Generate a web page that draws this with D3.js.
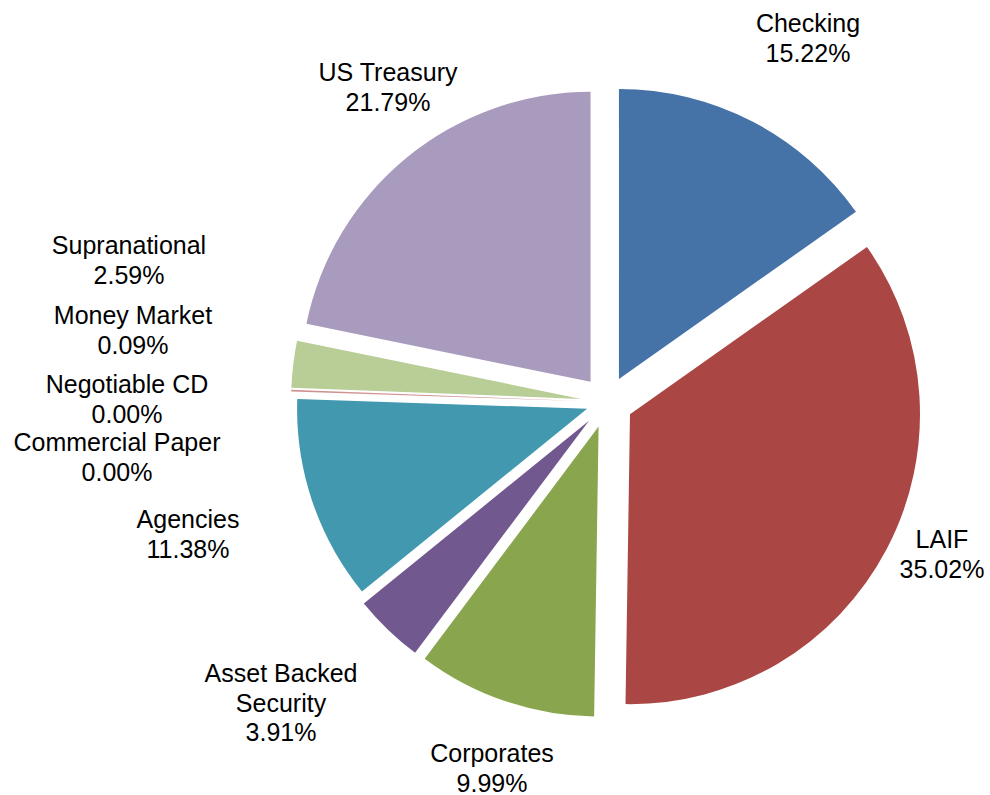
<!DOCTYPE html>
<html>
<head>
<meta charset="utf-8">
<script src="https://cdn.jsdelivr.net/npm/d3@7"></script>
<style>
  html, body { margin: 0; padding: 0; background: #ffffff; }
  svg { display: block; }
  text { font-family: "Liberation Sans", Arial, sans-serif; }
</style>
</head>
<body>
<svg id="chart" width="990" height="795"></svg>
<script>
// ---- data ----
const categories = ["Checking", "LAIF", "Corporates", "Asset Backed Security", "Agencies",
  "Commercial Paper", "Negotiable CD", "Money Market", "Supranational", "US Treasury"];
const values = [15.22, 35.02, 9.99, 3.91, 11.38, 0.00, 0.00, 0.09, 2.59, 21.79];
const labelNames = [["Checking"], ["LAIF"], ["Corporates"], ["Asset Backed", "Security"], ["Agencies"],
  ["Commercial Paper"], ["Negotiable CD"], ["Money Market"], ["Supranational"], ["US Treasury"]];
const colors = ["#4572A7", "#AA4643", "#89A54E", "#71588F", "#4198AF",
  "#DB843D", "#93A9CF", "#D19392", "#B9CD96", "#A99BBD"];

// ---- layout ----
const width = 990, height = 795;
const cx = 607, cy = 402, radius = 290;
const explode = [26, 26, 26, 26, 21, 26, 26, 26, 26, 26];
// label anchors relative to pie center (center x, first baseline)
const labelOffsets = [[201, -370], [335, 146], [-115, 360], [-326, 280], [-419, 126],
  [-490, 49], [-480, -9], [-474, -78], [-478, -148], [-219, -321]];
const lineHeight = 29.5;
const fontSize = 25;

const svg = d3.select("#chart");
const g = svg.append("g").attr("transform", `translate(${cx},${cy})`);

const pie = d3.pie().sort(null).value(d => d).startAngle(0).endAngle(2 * Math.PI);
const arcs = pie(values);
const arc = d3.arc().innerRadius(0).outerRadius(radius);

g.selectAll("path.slice")
  .data(arcs)
  .join("path")
  .attr("class", "slice")
  .attr("d", arc)
  .attr("fill", (d, i) => colors[i])
  .attr("transform", (d, i) => {
    const mid = (d.startAngle + d.endAngle) / 2;
    return `translate(${explode[i] * Math.sin(mid)},${-explode[i] * Math.cos(mid)})`;
  });

const labels = g.selectAll("text.label")
  .data(arcs)
  .join("text")
  .attr("class", "label")
  .attr("text-anchor", "middle")
  .attr("font-size", fontSize)
  .attr("fill", "#000")
  .attr("x", (d, i) => labelOffsets[i][0])
  .attr("y", (d, i) => labelOffsets[i][1]);

labels.each(function (d, i) {
  const t = d3.select(this);
  const lines = labelNames[i].concat([d3.format(".2f")(values[i]) + "%"]);
  lines.forEach((ln, j) => {
    t.append("tspan")
      .attr("x", labelOffsets[i][0])
      .attr("dy", j === 0 ? 0 : lineHeight)
      .text(ln);
  });
});
</script>
</body>
</html>
